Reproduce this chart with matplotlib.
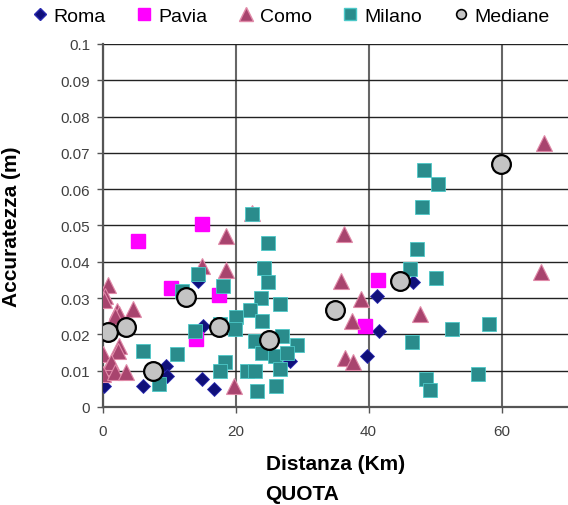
import matplotlib.pyplot as plt
from matplotlib.lines import Line2D

plt.rcParams['font.family'] = ['Liberation Sans', 'DejaVu Sans']

# distanza (km) / accuratezza (m) per ogni stazione
roma_x = [0.2, 6.0, 9.5, 9.6, 14.4, 15.0, 15.1, 16.7, 28.2, 46.7, 41.2, 41.6, 39.7]
roma_y = [0.0059, 0.0059, 0.0114, 0.0086, 0.0348, 0.0077, 0.0224, 0.0050, 0.0128,
          0.0344, 0.0305, 0.0208, 0.0140]

pavia_x = [5.3, 15.0, 10.3, 14.1, 17.5, 41.4, 39.5]
pavia_y = [0.0458, 0.0503, 0.0328, 0.0187, 0.0309, 0.0351, 0.0224]

como_x = [0.8, 0.3, 0.2, 2.1, 2.4, 1.8, 4.6, 2.5, 2.3, 0.1, 0.85, 1.2, 0.1, 1.85, 3.5,
          15.0, 22.4, 18.6, 18.6, 19.7, 66.4, 36.3, 66.0, 35.8, 38.8, 47.7, 37.5,
          36.4, 37.7]
como_y = [0.0336, 0.0305, 0.0295, 0.0265, 0.0255, 0.0250, 0.0270, 0.0169, 0.0155,
          0.0146, 0.0109, 0.0125, 0.0091, 0.0096, 0.0096, 0.0389, 0.0535, 0.0470,
          0.0376, 0.0057, 0.0727, 0.0477, 0.0373, 0.0348, 0.0298, 0.0256, 0.0236,
          0.0134, 0.0125]

milano_x = [14.4, 11.9, 13.9, 6.0, 11.2, 8.4, 22.4, 24.9, 24.2, 24.9, 18.1, 23.8,
            26.6, 22.2, 20.1, 23.9, 17.6, 19.9, 22.9, 26.9, 29.2, 23.9, 25.9, 27.7,
            18.4, 17.6, 21.7, 22.9, 26.7, 23.2, 26.1, 48.3, 50.4, 48.0, 47.3, 46.3,
            50.1, 52.5, 58.1, 46.5, 56.4, 48.6, 49.2]
milano_y = [0.0366, 0.0320, 0.0210, 0.0155, 0.0146, 0.0063, 0.0532, 0.0452, 0.0382,
            0.0345, 0.0334, 0.0300, 0.0284, 0.0267, 0.0247, 0.0238, 0.0229, 0.0215,
            0.0183, 0.0196, 0.0171, 0.0149, 0.0141, 0.0150, 0.0125, 0.0100, 0.0100,
            0.0100, 0.0105, 0.0045, 0.0057, 0.0654, 0.0614, 0.0550, 0.0435, 0.0380,
            0.0355, 0.0215, 0.0229, 0.0178, 0.0091, 0.0077, 0.0048]

mediane_x = [0.85, 3.5, 7.5, 12.5, 17.5, 25.0, 34.9, 44.7, 59.9]
mediane_y = [0.0206, 0.0220, 0.0100, 0.0302, 0.0220, 0.0185, 0.0268, 0.0346, 0.0669]

roma_c = '#10107a'
pavia_c = '#ff00ff'
como_c = '#a8446e'
milano_c = '#2a8c8c'

fig = plt.figure(figsize=(5.68, 5.06), dpi=100)
ax = fig.add_axes([0.1808, 0.1937, 0.8192, 0.7174])

ax.plot(roma_x, roma_y, 'D', ms=7, color=roma_c, mec='#2a2ab0', mew=0.6, zorder=3)
ax.plot(pavia_x, pavia_y, 's', ms=10, color=pavia_c, mec=pavia_c, zorder=3)
ax.plot(como_x, como_y, '^', ms=11, color=como_c, mec='#e08aa8', mew=0.8, zorder=3)
ax.plot(milano_x, milano_y, 's', ms=9.5, color=milano_c, mec='#4cc8c8', mew=0.6, zorder=4)
ax.plot(mediane_x, mediane_y, 'o', ms=13.5, color='#c4c4c4', mec='black', mew=1.6, zorder=5)

ax.set_xlim(0, 70)
ax.set_ylim(0, 0.1)
ax.set_xticks([0, 20, 40, 60])
ax.set_yticks([i / 100 for i in range(11)])
ax.set_yticklabels(['0'] + ['%g' % (i / 100) for i in range(1, 11)])

ax.grid(axis='y', color='#222222', lw=1.0)
ax.grid(axis='x', color='#666666', lw=1.5)
ax.set_axisbelow(True)
for s in ['top', 'right']:
    ax.spines[s].set_visible(False)
for s in ['left', 'bottom']:
    ax.spines[s].set_color('#555555')
    ax.spines[s].set_linewidth(1.6)
ax.tick_params(direction='out', length=4, width=1, color='#555555',
               labelcolor='#404040', labelsize=11)
ax.tick_params(axis='y', pad=5)
ax.tick_params(axis='x', pad=8)

ax.set_xlabel('Distanza (Km)', fontsize=15, fontweight='bold')
ax.set_ylabel('Accuratezza (m)', fontsize=15, fontweight='bold')
ax.xaxis.set_label_coords(0.5, -0.13)
ax.yaxis.set_label_coords(-0.175, 0.5)
fig.text(0.532, 0.022, 'QUOTA', fontsize=15, fontweight='bold', ha='center', va='center')

handles = [
    Line2D([], [], ls='', marker='D', ms=6, color=roma_c, mec='#2a2ab0'),
    Line2D([], [], ls='', marker='s', ms=9, color=pavia_c),
    Line2D([], [], ls='', marker='^', ms=10, color=como_c, mec='#e08aa8'),
    Line2D([], [], ls='', marker='s', ms=8, color=milano_c, mec='#4cc8c8'),
    Line2D([], [], ls='', marker='o', ms=7, color='#c4c4c4', mec='black', mew=1.2),
]
fig.legend(handles, ['Roma', 'Pavia', 'Como', 'Milano', 'Mediane'], ncol=5,
           loc='center', bbox_to_anchor=(0.51, 0.966), frameon=False,
           fontsize=14, handletextpad=0.2, columnspacing=1.5, handlelength=1.0)

fig.savefig('out.png', dpi=100)
